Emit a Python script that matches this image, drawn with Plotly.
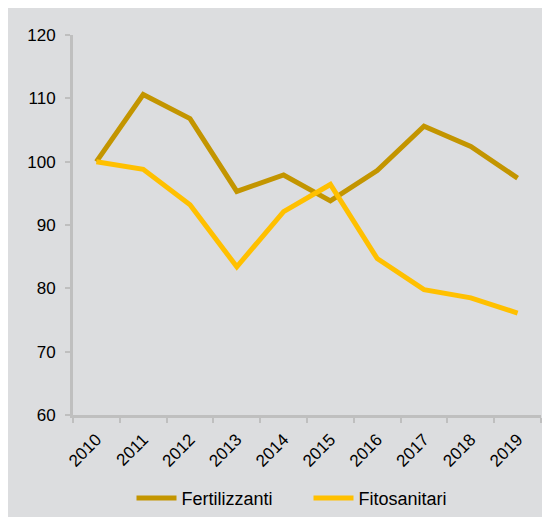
import plotly.graph_objects as go

anni = ["2010", "2011", "2012", "2013", "2014", "2015", "2016", "2017", "2018", "2019"]
fertilizzanti = [100, 110.6, 106.8, 95.3, 97.9, 93.8, 98.6, 105.6, 102.4, 97.4]
fitosanitari = [100, 98.8, 93.2, 83.4, 92.1, 96.4, 84.7, 79.8, 78.5, 76.1]

fig = go.Figure()
fig.add_trace(go.Scatter(x=anni, y=fertilizzanti, name="Fertilizzanti", mode="lines",
                         line=dict(color="#C39500", width=5)))
fig.add_trace(go.Scatter(x=anni, y=fitosanitari, name="Fitosanitari", mode="lines",
                         line=dict(color="#FFC000", width=5)))

fig.update_layout(
    width=550, height=517,
    margin=dict(l=65, r=17, t=27, b=110, autoexpand=False),
    paper_bgcolor="#DCDDDF", plot_bgcolor="#DCDDDF",
    font=dict(family="Liberation Sans, Arial", size=17, color="#000"),
    showlegend=True,
    legend=dict(orientation="h", x=0.125, xanchor="left", y=-0.219, yanchor="middle",
                font=dict(size=18), bgcolor="rgba(0,0,0,0)", itemwidth=40,
                entrywidth=122, entrywidthmode="pixels"),
)
fig.update_xaxes(type="category", range=[-0.5, 9.5], tickangle=-45, tickson="boundaries",
                 ticks="outside", ticklen=5, tickwidth=2, tickcolor="#BFBFBF",
                 showline=True, linecolor="#BFBFBF", linewidth=3, showgrid=False,
                 tickfont=dict(size=17), ticklabelstandoff=5, automargin=False)
fig.update_yaxes(range=[60, 120], dtick=10, ticks="outside", ticklen=5, tickwidth=2,
                 tickcolor="#BFBFBF", showline=True, linecolor="#BFBFBF", linewidth=3,
                 showgrid=False, zeroline=False, tickfont=dict(size=17),
                 ticklabelstandoff=6, automargin=False)

fig.write_html("out.html")
